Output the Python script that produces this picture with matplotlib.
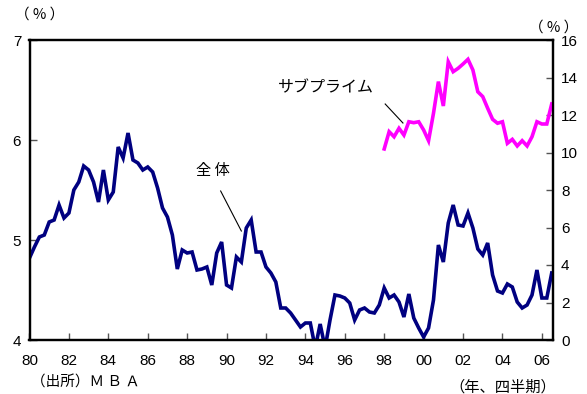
import matplotlib
matplotlib.use("Agg")
import matplotlib.pyplot as plt
import numpy as np

# Quarterly data, 1980Q1 onward (delinquency rate, %)
total = [4.82, 4.93, 5.03, 5.05, 5.18, 5.20, 5.35, 5.22, 5.27, 5.50,
         5.58, 5.74, 5.70, 5.58, 5.38, 5.70, 5.40, 5.48, 5.93, 5.82,
         6.07, 5.80, 5.77, 5.70, 5.73, 5.68, 5.52, 5.32, 5.23, 5.05,
         4.71, 4.90, 4.87, 4.88, 4.70, 4.71, 4.73, 4.55, 4.87, 4.98,
         4.55, 4.52, 4.83, 4.78, 5.12, 5.20, 4.88, 4.88, 4.73, 4.67,
         4.58, 4.32, 4.32, 4.27, 4.20, 4.13, 4.17, 4.17, 3.92, 4.16,
         3.92, 4.20, 4.45, 4.44, 4.42, 4.37, 4.20, 4.30, 4.32, 4.28,
         4.27, 4.35, 4.52, 4.42, 4.45, 4.38, 4.23, 4.46, 4.22, 4.12,
         4.03, 4.12, 4.40, 4.95, 4.78, 5.17, 5.35, 5.15, 5.14, 5.27,
         5.12, 4.91, 4.85, 4.97, 4.65, 4.49, 4.47, 4.56, 4.53, 4.38,
         4.32, 4.35, 4.45, 4.70, 4.42, 4.42, 4.67]
# Subprime, from 1998Q1 (right axis)
subprime_start = 1998
subprime = [10.19, 11.11, 10.84, 11.29, 10.93, 11.64, 11.59, 11.64, 11.20, 10.63,
            12.09, 13.78, 12.48, 14.84, 14.31, 14.49, 14.72, 14.97, 14.40, 13.24,
            12.98, 12.36, 11.77, 11.56, 11.64, 10.49, 10.70, 10.35, 10.63, 10.35,
            10.84, 11.64, 11.52, 11.52, 12.59]
xtick_years = list(range(1980, 2007, 2))
xtick_labels = ["80", "82", "84", "86", "88", "90", "92", "94", "96", "98",
                "00", "02", "04", "06"]
left_ticks = [4, 5, 6, 7]
right_ticks = [0, 2, 4, 6, 8, 10, 12, 14, 16]

x_total = 1980 + np.arange(len(total)) / 4
x_sub = subprime_start + np.arange(len(subprime)) / 4

num_font = "Liberation Sans"
jp_font = ["Noto Sans CJK JP", "DejaVu Sans"]

fig = plt.figure(figsize=(5.87, 3.94), dpi=100)
ax = fig.add_axes([29.5 / 587, 1 - 340 / 394, (552.7 - 29.5) / 587, 300 / 394])
ax2 = ax.twinx()

ax.plot(x_total, total, color="#000080", lw=2.6, solid_joinstyle="miter", zorder=3)
ax2.plot(x_sub, subprime, color="#ff00ff", lw=2.6, solid_joinstyle="miter")

ax.set_xlim(1980, 2006.55)
ax.set_ylim(4, 7)
ax2.set_ylim(0, 16)

ax.set_xticks(xtick_years)
ax.set_xticklabels(xtick_labels, fontfamily=num_font, fontsize=11)
ax.set_yticks(left_ticks)
ax.set_yticklabels([str(v) for v in left_ticks], fontfamily=num_font, fontsize=11)
ax2.set_yticks(right_ticks)
ax2.set_yticklabels([str(v) for v in right_ticks], fontfamily=num_font, fontsize=11)

ax.tick_params(axis="x", direction="in", length=5, width=1, pad=10, color="#555555")
ax.tick_params(axis="y", direction="in", length=5, width=1, pad=6, color="#555555")
ax2.tick_params(axis="y", direction="in", length=5, width=1, pad=6, color="#555555")

for a in (ax, ax2):
    for s in a.spines.values():
        s.set_linewidth(1.6)
        s.set_color("black")

# annotations
fig.text(15 / 587, 1 - 15 / 394, "（ % ）", fontfamily=jp_font, fontsize=10.5,
         ha="left", va="center")
fig.text(529 / 587, 1 - 28 / 394, "（ % ）", fontfamily=jp_font, fontsize=10.5,
         ha="left", va="center")
fig.text(31 / 587, 1 - 383 / 394, "（出所）Ｍ Ｂ Ａ", fontfamily=jp_font, fontsize=10.5,
         ha="left", va="center")
fig.text(556 / 587, 1 - 387 / 394, "（年、四半期）", fontfamily=jp_font, fontsize=11,
         ha="right", va="center")

ax.text(1988.45, 5.70, "全 体", fontfamily=jp_font, fontsize=11, ha="left", va="center")
ax.plot([1989.7, 1990.75], [5.49, 5.09], color="black", lw=0.8)
ax.text(1992.6, 6.52, "サブプライム", fontfamily=jp_font, fontsize=11.5, ha="left", va="center")
ax.plot([1998.05, 1998.95], [6.36, 6.17], color="black", lw=0.8)

fig.savefig("out.png", dpi=100)
